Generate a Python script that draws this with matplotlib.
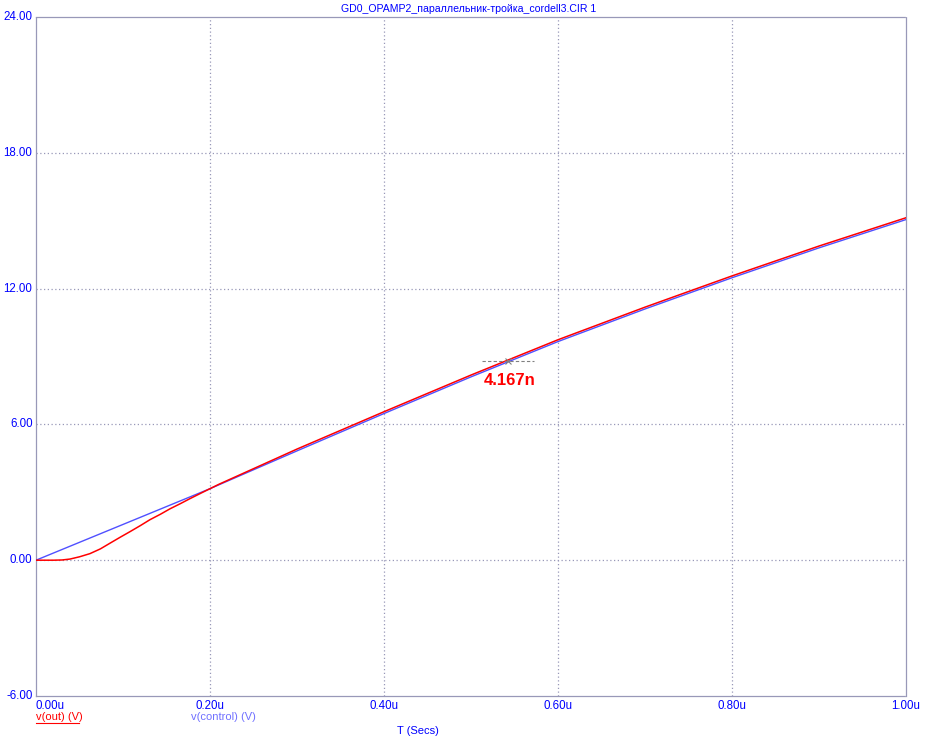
import matplotlib
matplotlib.use("Agg")
import matplotlib.pyplot as plt
import numpy as np

plt.rcParams['font.family'] = ['Liberation Sans', 'DejaVu Sans']

title = "GD0_OPAMP2_параллельник-тройка_cordell3.CIR 1"
t_control = [0.0, 0.1, 0.2, 0.3, 0.4, 0.5, 0.6, 0.7, 0.8, 0.9, 1.0]
v_control = [0.0, 1.58, 3.16, 4.83, 6.48, 8.1, 9.66, 11.1, 12.48, 13.8, 15.05]

t_out = [0.0, 0.02, 0.03, 0.039, 0.05, 0.062, 0.074, 0.085, 0.097, 0.108, 0.12,
         0.131, 0.143, 0.154, 0.166, 0.177, 0.19, 0.2, 0.21, 0.3, 0.4, 0.5, 0.6, 0.7,
         0.8, 0.9, 1.0]
v_out = [0.0, 0.0, 0.01, 0.05, 0.15, 0.29, 0.5, 0.75, 1.02, 1.26, 1.53,
         1.79, 2.03, 2.27, 2.5, 2.72, 2.97, 3.16, 3.35, 4.91, 6.56, 8.18, 9.74, 11.18,
         12.56, 13.88, 15.13]

xticks = [0.0, 0.2, 0.4, 0.6, 0.8, 1.0]
xtick_labels = ["0.00u", "0.20u", "0.40u", "0.60u", "0.80u", "1.00u"]
yticks = [-6, 0, 6, 12, 18, 24]
ytick_labels = ["-6.00", "0.00", "6.00", "12.00", "18.00", "24.00"]

cursor_t = 0.5425
cursor_v = 8.79
cursor_label = "4.167n"

W, H = 933, 747
fig = plt.figure(figsize=(W / 100, H / 100), dpi=100)
ax = fig.add_axes([36 / W, 1 - 696 / H, (906 - 36) / W, (696 - 17) / H])
ax.set_xlim(0, 1.0)
ax.set_ylim(-6, 24)

grid_col = '#9898b8'
for x in xticks[1:-1]:
    ax.axvline(x, color=grid_col, lw=0.9, ls=(0, (1, 2)), zorder=1)
for y in yticks[1:-1]:
    ax.axhline(y, color=grid_col, lw=0.9, ls=(0, (1, 2)), zorder=1)
for s in ax.spines.values():
    s.set_color(grid_col)
    s.set_linewidth(0.9)
    s.set_linestyle((0, (1, 1)))

ax.plot(t_control, v_control, color='#5050ff', lw=1.0, zorder=3)
ax.plot(t_out, v_out, color='#ff0000', lw=1.1, zorder=4)

# cursor annotation
ax.plot([cursor_t - 0.03, cursor_t + 0.03], [cursor_v, cursor_v], color='#808080',
        lw=0.8, ls=(0, (3, 2)), zorder=5)
ax.plot([cursor_t], [cursor_v], marker='x', color='#808080', ms=4, mew=0.8, zorder=5)
ax.text(cursor_t - 0.028, cursor_v - 0.5, cursor_label, color='#ff0000', fontsize=12,
        fontweight='bold', ha='left', va='top', zorder=6)

ax.set_xticks([])
ax.set_yticks([])
for x, lab in zip(xticks, xtick_labels):
    ha = 'left' if x == 0 else 'center'
    fig.text((36 + 870 * x) / W, 1 - 706 / H, lab, color='#0000ff', fontsize=8.3,
             ha=ha, va='center')
for y, lab in zip(yticks, ytick_labels):
    ax.text(-0.004, y, lab, color='#0000ff', fontsize=8.3, ha='right', va='center')

fig.text(418 / W, 1 - 731 / H, "T (Secs)", color='#0000ff', fontsize=8, ha='center', va='center')
fig.text(469 / W, 1 - 9 / H, title, color='#0000ff', fontsize=7.6, ha='center', va='center')
fig.text(36 / W, 1 - 717 / H, "v(out) (V)", color='#ff0000', fontsize=8, ha='left', va='center')
fig.add_artist(plt.Line2D([36 / W, 79 / W], [1 - 723 / H, 1 - 723 / H], color='#ff0000', lw=0.8))
fig.text(191 / W, 1 - 717 / H, "v(control) (V)", color='#7070ff', fontsize=8, ha='left', va='center')

fig.savefig("out.png", dpi=100)
